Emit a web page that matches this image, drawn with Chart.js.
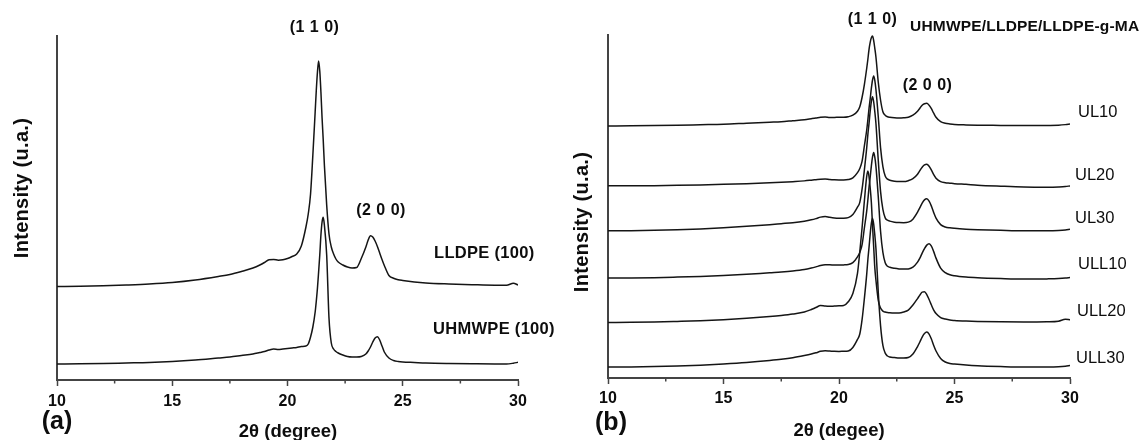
<!DOCTYPE html>
<html>
<head>
<meta charset="utf-8">
<script src="https://cdn.jsdelivr.net/npm/chart.js@4.4.0/dist/chart.umd.min.js"></script>
<style>
html,body{margin:0;padding:0;background:#fff;}
#wrap{position:relative;width:1143px;height:440px;overflow:hidden;background:#fff;}
#ca{position:absolute;left:0;top:0;}
#cb{position:absolute;left:571px;top:0;}
</style>
</head>
<body>
<div id="wrap">
<canvas id="ca" width="571" height="440"></canvas>
<canvas id="cb" width="572" height="440"></canvas>
</div>
<script>
// ---------- data (2θ in degrees, intensity in arbitrary units, curves offset as plotted) ----------
const twoTheta = [10,11,12,13,14,15,16,17,
  17.5,18,18.5,18.8,19,19.2,19.4,19.6,19.8,
  20,20.2,20.4,20.6,20.8,20.9,
  21,21.1,21.2,21.25,21.3,21.35,21.4,21.45,21.5,21.55,21.6,
  21.7,21.8,21.9,22,22.1,22.2,22.4,22.6,22.8,
  23,23.2,23.4,23.5,23.6,23.7,23.8,23.9,24,24.1,24.2,
  24.4,24.6,24.8,25,25.5,26,27,28,29,29.5,29.8,30];

// panel (a)
const lldpe100 = [93.5,93.7,94.2,95,96,97.5,100,103.5,
  105.5,108.5,112,115,117.5,120.3,120.6,119.8,120.2,
  121.5,123.5,126,134,153,166,
  186,225,268,290,308,319,309,288,262,240,215,
  175,146,133,126,121,118,115,113,112,
  112.5,121.5,133,140,144.3,143,139,133.5,127,120.5,114.5,
  104.5,101.8,100.3,99.5,98,97,96,95.3,94.8,94.8,96.8,95];
const uhmwpe100 = [16,16.2,16.5,17,17.5,18.5,20,22,
  23,24.5,26,27.5,28.5,30,31,30.5,31,
  31.5,32,32.5,33.5,34,36,
  43,53,68,79,92,108,125,145,158,162.7,155,
  125,62,37,31,28.5,27,25,23.5,23,
  23,23.5,26,29,33,38,42,43.3,40,34,28,
  22,19.5,18.5,18,17.5,17,16.5,16.2,16,16,16.8,17.7];

// panel (b)
const ul10 = [252.3,252.4,252.6,253,253.5,254,255,256,
  256.5,257.5,258.5,259.5,260.2,261,261.3,260.8,260.8,
  261,261,261.5,263,267,271.5,
  281,294,310,319,329,336,340.5,342.3,338,330,321,
  296,278,266.5,263,261.5,261,260.5,260.3,260.5,
  261,263,267,270,273,274.5,275,273,269.5,265,261,
  256.5,255,254.3,253.8,253.3,253,252.8,252.6,252.8,253,253.6,254.3];
const ul20 = [192.3,192.3,192.5,192.8,193.2,193.8,194.5,195.3,
  195.8,196.5,197.3,198,198.5,199,199.2,198.6,198.3,
  198.2,198.2,198.6,200.3,205.5,209.7,
  217,232.6,248.2,258.6,270,279.4,289.8,298,302.3,298,288.5,
  261.5,230.3,211.6,202.2,199,198,197,196.6,196.6,
  197.5,199.5,204,207.5,211,213.3,214,212,208,203.5,200,
  196.5,195.5,195,194.5,193.8,193,192,191.2,191,191.2,191.6,192.3];
const ul30 = [147.3,147.4,147.8,148.4,149.2,150.3,151.8,153.5,
  154.5,155.5,157,158.3,159.5,161,161.6,160.8,160.2,
  160,160,160.5,163.6,171,175.8,
  189.2,208.6,230.5,243.9,254.8,267,276.7,281.6,276.5,266.6,254.5,
  217.9,186.5,168.8,160.3,158,157,156,155.6,155.5,
  156,159,166,170.5,175,178.3,179.3,177,172,165.5,160,
  153.5,151.2,150.3,149.8,149,148.5,147.8,147.3,147.3,147.6,148.2,149];
const ull10 = [100,100.1,100.4,101,101.7,102.6,103.8,105.3,
  106,107,108.5,110,111.2,112.5,113.3,113.4,113,
  113,113.2,113.5,115.5,121.2,125.7,
  133.5,150.4,167.2,178.4,190.8,200.9,212.1,221.1,225.6,221,211.6,
  181.4,146.6,125.7,115.3,111.8,110.8,109.8,109.2,109,
  109.2,111,116,120,125,129.5,133,134.3,132,126.5,120,
  110,105.5,103.3,102.3,101,100.3,99.5,99,99.2,99.5,100,100.6];
const ull20 = [55.6,55.7,56,56.6,57.3,58.3,59.7,61.5,
  62.6,64,66,68.5,70.5,72.5,72,71.8,72,
  72.2,72.5,76.3,84.5,104.7,126.3,
  150.6,177.6,201.9,207.3,201.6,190.2,176,153.2,131.9,110.5,97.7,
  77.8,70,67,66,65.5,65.2,65,65,66,
  68,73,79.5,83,86,86.3,83.5,78.5,73,68,64.5,
  60.5,59,58,57.6,57,56.6,56.2,56,56.2,56.8,58.8,58.3];
const ull30 = [11,11.1,11.4,12,12.8,14,15.5,17.5,
  18.7,20.3,22.5,24,25.2,26.7,27.3,27,26.7,
  26.6,26.7,27,30.6,38.6,44,
  58.6,80,104,118.6,130.7,144,154.7,160,154.4,143.2,129.2,
  85.8,52.2,32.6,24.9,22,21,20.5,20,20,
  20.5,24,31.5,36,41,44.5,46,44,39,32.5,27,
  19.5,16,14.5,14,13,12.3,11.5,11,11,11.2,11.8,12.6];

const xTickValues = [10, 15, 20, 25, 30];
const xTickLabels = ['10', '15', '20', '25', '30'];
const xMinorTickValues = [12.5, 17.5, 22.5, 27.5];

const panelASeriesNames = ['LLDPE (100)', 'UHMWPE (100)'];
const panelBSeriesNames = ['UL10', 'UL20', 'UL30', 'ULL10', 'ULL20', 'ULL30'];

// ---------- rendering ----------
const FONT = '"Liberation Sans", Arial, Helvetica, sans-serif';
const AXIS_COLOR = '#444';
const LINE_COLOR = '#151515';
const TEXT_COLOR = '#0d0d0d';

function toPoints(ys) { return twoTheta.map((x, i) => ({ x: x, y: ys[i] })); }

function lineDataset(name, ys) {
  return {
    label: name,
    data: toPoints(ys),
    borderColor: LINE_COLOR,
    borderWidth: 1.5,
    pointRadius: 0,
    fill: false,
    cubicInterpolationMode: 'monotone'
  };
}

function overlayPlugin(items) {
  return {
    id: 'overlay',
    afterDraw(chart) {
      const ctx = chart.ctx;
      const xs = chart.scales.x;
      const bottom = chart.chartArea.bottom;
      ctx.save();
      ctx.strokeStyle = AXIS_COLOR;
      ctx.lineWidth = 1.5;
      xMinorTickValues.forEach(v => {
        const px = xs.getPixelForValue(v);
        ctx.beginPath();
        ctx.moveTo(px, bottom);
        ctx.lineTo(px, bottom + 3.5);
        ctx.stroke();
      });
      items.forEach(it => {
        ctx.font = it.font;
        ctx.fillStyle = TEXT_COLOR;
        ctx.textAlign = it.align || 'center';
        ctx.textBaseline = 'middle';
        if ('letterSpacing' in ctx) ctx.letterSpacing = it.ls || '0px';
        if (it.rot) {
          ctx.save();
          ctx.translate(it.x, it.y);
          ctx.rotate(-Math.PI / 2);
          ctx.fillText(it.text, 0, 0);
          ctx.restore();
        } else {
          ctx.fillText(it.text, it.x, it.y);
        }
      });
      ctx.restore();
    }
  };
}

function makeChart(canvasId, datasets, cfg) {
  return new Chart(document.getElementById(canvasId), {
    type: 'line',
    data: { datasets: datasets },
    options: {
      responsive: false,
      animation: false,
      devicePixelRatio: 1,
      layout: { padding: { left: 0, right: cfg.padRight, top: cfg.padTop, bottom: 0 } },
      plugins: { legend: { display: false }, tooltip: { enabled: false } },
      scales: {
        x: {
          type: 'linear',
          min: 10,
          max: 30,
          afterBuildTicks: s => { s.ticks = xTickValues.map(v => ({ value: v })); },
          afterFit: s => { s.height = cfg.xHeight; },
          ticks: {
            autoSkip: false,
            maxRotation: 0,
            padding: cfg.tickPad,
            color: TEXT_COLOR,
            font: { family: FONT, size: 16, weight: 'bold' },
            callback: (v) => { const i = xTickValues.indexOf(v); return i >= 0 ? xTickLabels[i] : ''; }
          },
          grid: { display: true, drawOnChartArea: false, drawTicks: true, tickLength: 6, tickColor: AXIS_COLOR, tickWidth: 1.5 },
          border: { display: true, color: AXIS_COLOR, width: 2 }
        },
        y: {
          type: 'linear',
          min: 0,
          max: cfg.yMax,
          afterFit: s => { s.width = cfg.yWidth; },
          ticks: { display: false },
          grid: { display: true, drawOnChartArea: false, drawTicks: false },
          border: { display: true, color: AXIS_COLOR, width: 2 }
        }
      }
    },
    plugins: [overlayPlugin(cfg.texts)]
  });
}

const BOLD = (s) => 'bold ' + s + 'px ' + FONT;
const REG = (s) => s + 'px ' + FONT;

// Panel (a)
makeChart('ca',
  [lineDataset(panelASeriesNames[0], lldpe100), lineDataset(panelASeriesNames[1], uhmwpe100)],
  {
    padRight: 53, padTop: 36, xHeight: 60, yWidth: 57, yMax: 344, tickPad: 6,
    texts: [
      { text: '(1 1 0)', x: 314.5, y: 27.5, font: BOLD(16), ls: '0.5px' },
      { text: '(2 0 0)', x: 381, y: 211, font: BOLD(16), ls: '0.5px' },
      { text: panelASeriesNames[0], x: 434, y: 253, font: BOLD(16.5), align: 'left', ls: '0.3px' },
      { text: panelASeriesNames[1], x: 433, y: 329, font: BOLD(16.5), align: 'left', ls: '0.3px' },
      { text: '(a)', x: 57, y: 422, font: BOLD(25) },
      { text: '2θ (degree)', x: 288, y: 432, font: BOLD(18.5) },
      { text: 'Intensity (u.a.)', x: 22, y: 188, font: BOLD(20), rot: true, ls: '0.3px' }
    ]
  });

// Panel (b)
makeChart('cb',
  [ul10, ul20, ul30, ull10, ull20, ull30].map((ys, i) => lineDataset(panelBSeriesNames[i], ys)),
  {
    padRight: 73, padTop: 35, xHeight: 62, yWidth: 37, yMax: 343.3, tickPad: 5,
    texts: [
      { text: '(1 1 0)', x: 301.5, y: 20, font: BOLD(16), ls: '0.5px' },
      { text: 'UHMWPE/LLDPE/LLDPE-g-MA', x: 339, y: 27, font: BOLD(15.5), align: 'left', ls: '0.2px' },
      { text: '(2 0 0)', x: 356.5, y: 86, font: BOLD(16), ls: '0.5px' },
      { text: panelBSeriesNames[0], x: 507, y: 112, font: REG(16.5), align: 'left' },
      { text: panelBSeriesNames[1], x: 504, y: 175, font: REG(16.5), align: 'left' },
      { text: panelBSeriesNames[2], x: 504, y: 218.5, font: REG(16.5), align: 'left' },
      { text: panelBSeriesNames[3], x: 507, y: 264.5, font: REG(16.5), align: 'left' },
      { text: panelBSeriesNames[4], x: 506, y: 311, font: REG(16.5), align: 'left' },
      { text: panelBSeriesNames[5], x: 505, y: 358.5, font: REG(16.5), align: 'left' },
      { text: '(b)', x: 40, y: 423, font: BOLD(25) },
      { text: '2θ (degee)', x: 268, y: 431, font: BOLD(18.5) },
      { text: 'Intensity (u.a.)', x: 11.5, y: 222, font: BOLD(20), rot: true, ls: '0.3px' }
    ]
  });
</script>
</body>
</html>
